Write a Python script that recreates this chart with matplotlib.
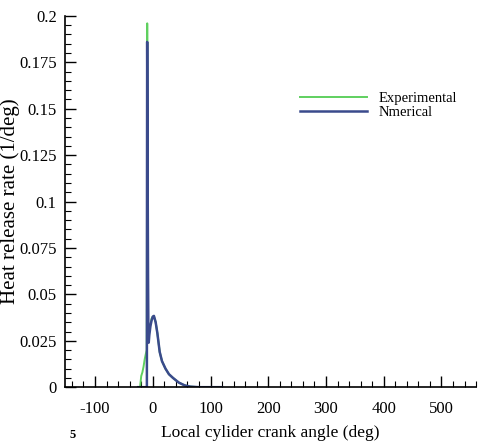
import matplotlib
matplotlib.use('Agg')
import matplotlib.pyplot as plt
from matplotlib.ticker import MultipleLocator

# crank angle (deg) and heat release rate (1/deg)
exp_angle = [-25, -22, -21, -20, -18, -16, -14, -12, -10.5, -10, -9.6, -9.2, -8.6, -8,
             -6, -4, -2, 0, 2, 5, 8, 12, 16, 22, 28, 35, 45, 55, 65, 80, 120]
exp_hrr = [0, 0, 0.003, 0.006, 0.008, 0.011, 0.015, 0.018, 0.02, 0.1, 0.196, 0.12, 0.05, 0.026,
           0.03, 0.034, 0.037, 0.038, 0.0382, 0.035, 0.029, 0.019, 0.014, 0.01, 0.007, 0.005,
           0.0025, 0.001, 0.0003, 0, 0]

num_angle = [-25, -10.2, -10, -9.7, -9.2, -8.7, -8.2, -7.6, -7, -6, -4, -2, 0, 2, 5, 8, 12,
             16, 22, 28, 35, 45, 55, 65, 80, 120]
num_hrr = [0, 0, 0.1, 0.186, 0.14, 0.1, 0.06, 0.03, 0.024, 0.028, 0.033, 0.036, 0.038, 0.0384,
           0.035, 0.029, 0.019, 0.014, 0.01, 0.007, 0.005, 0.0025, 0.001, 0.0003, 0, 0]

plt.rcParams['font.family'] = ['Liberation Serif', 'DejaVu Serif']
plt.rcParams['axes.unicode_minus'] = False

fig = plt.figure(figsize=(4.78, 4.42), dpi=100)
ax = fig.add_axes([0.136, 0.124, 0.86, 0.84])

ax.plot(exp_angle, exp_hrr, color='#5fd05f', lw=1.4, label='Experimental')
ax.plot(num_angle, num_hrr, color='#3a4a8c', lw=1.8, label='Nmerical')

ax.set_xlim(-152, 560)
ax.set_ylim(0, 0.2)
ax.xaxis.set_major_locator(MultipleLocator(100))
ax.xaxis.set_minor_locator(MultipleLocator(20))
ax.yaxis.set_minor_locator(MultipleLocator(0.005))
ax.set_yticks([0, 0.025, 0.05, 0.075, 0.1, 0.125, 0.15, 0.175, 0.2])
ax.set_yticklabels(['0', '0.025', '0.05', '0.075', '0.1', '0.125', '0.15', '0.175', '0.2'])
ax.tick_params(which='major', direction='in', length=8, width=1, labelsize=12, pad=6)
ax.tick_params(axis='x', which='major', pad=10)
ax.tick_params(which='minor', direction='in', length=4, width=0.8)

for s in ['top', 'right']:
    ax.spines[s].set_visible(False)
for s in ['left', 'bottom']:
    ax.spines[s].set_linewidth(1.2)

ax.set_xlabel('Local cylider crank angle (deg)', fontsize=12.5, labelpad=6)
ax.set_ylabel('Heat release rate (1/deg)', fontsize=15)
ax.yaxis.set_label_coords(-0.11, 0.5)

ax.legend(loc='upper left', bbox_to_anchor=(0.54, 0.83), frameon=False, fontsize=10.5,
          handlelength=4.6, handletextpad=0.8, labelspacing=0.05)

fig.text(0.145, 0.002, '5', fontsize=9, fontweight='bold', va='bottom')

fig.savefig('out.png', dpi=100)
